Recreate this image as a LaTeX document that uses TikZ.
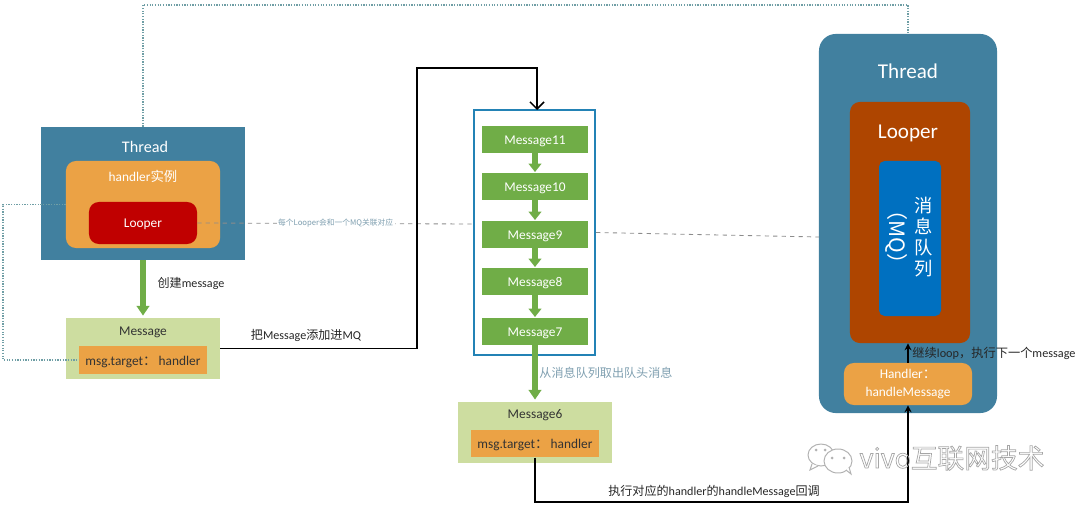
\documentclass[tikz,border=0pt]{standalone}
\usepackage{fontspec}
\setmainfont{Carlito}
\newfontfamily\cjk{Noto Sans CJK SC}
\usetikzlibrary{arrows.meta}

\definecolor{threadblue}{HTML}{41809F}
\definecolor{handlerorange}{HTML}{EBA245}
\definecolor{looperred}{HTML}{C00000}
\definecolor{looperbrown}{HTML}{AE4500}
\definecolor{mqblue}{HTML}{0070C0}
\definecolor{msggreen}{HTML}{70AD47}
\definecolor{msgpale}{HTML}{CDDDA0}
\definecolor{queueblue}{HTML}{2382B5}
\definecolor{linkgrey}{HTML}{6F9EA5}
\definecolor{notegrey}{HTML}{7F9FB0}

\begin{document}
\begin{tikzpicture}[x=0.025cm,y=-0.025cm,
        box/.style={inner sep=0pt,align=center,text=white},
        rbox/.style={box,rounded corners=7pt},
        msgitem/.style={box,fill=msggreen,minimum width=2.65cm,minimum height=0.675cm,text height=7pt,text depth=0pt,font=\fontsize{9.5}{11}\selectfont},
        msgcard/.style={box,fill=msgpale,minimum width=3.85cm,minimum height=1.525cm},
        target/.style={box,fill=handlerorange,minimum width=3.2cm,minimum height=0.69cm,text height=7.5pt,text depth=0pt,text=black!80,font=\fontsize{9.5}{11}\selectfont},
        bigarrow/.style={-{Triangle[width=9pt,length=7pt]},line width=3.6pt,msggreen,shorten >=1.5pt},
        smallarrow/.style={-{Triangle[width=9pt,length=6pt]},line width=3.8pt,msggreen,shorten >=0.5pt},
        flow/.style={line width=1.1pt,black},
        linkdot/.style={densely dotted,line width=0.9pt,linkgrey},
        linkdash/.style={dashed,line width=0.6pt,black!45},
        caption/.style={inner sep=0pt,font=\fontsize{8.6}{10}\selectfont,text=black!85},
        markline/.style={black!30,line width=0.7pt,fill=white}]

    \useasboundingbox (0,0) rectangle (1080,506);

    % Left thread
    \node[box,fill=threadblue,minimum width=5.1cm,minimum height=3.325cm] (lthread) at (143,193.5) {};
    \node[box,font=\fontsize{11.5}{14}\selectfont] (lthreadtxt) at (145,147) {Thread};
    \node[rbox,fill=handlerorange,minimum width=3.85cm,minimum height=2.175cm] (handler) at (143,204.5) {};
    \node[box,font=\fontsize{9.5}{11}\selectfont] (handlertxt) at (143,176) {handler{\cjk 实例}};
    \node[rbox,fill=looperred,minimum width=2.7cm,minimum height=1.05cm,text height=7pt,text depth=0pt,font=\fontsize{9.5}{11}\selectfont] (looper) at (143,223) {Looper};

    % Message created by the handler
    \node[msgcard] (msg) at (143,348.5) {};
    \node[box,text=black!80,font=\fontsize{9.5}{11}\selectfont] (msgtxt) at (143,332) {Message};
    \node[target] (msgtarget) at (143,360) {msg.target{\cjk ：}\,handler};

    % Message queue
    \node[draw=queueblue,line width=1.5pt,fill=white,minimum width=3.025cm,minimum height=6.125cm,inner sep=0pt] (queue) at (534.5,232.5) {};
    \node[msgitem] (m11) at (535,139.5) {Message11};
    \node[msgitem] (m10) at (535,186.5) {Message10};
    \node[msgitem] (m9) at (535,234.5) {Message9};
    \node[msgitem] (m8) at (535,281.5) {Message8};
    \node[msgitem] (m7) at (535,331.5) {Message7};

    % Message taken from the queue
    \node[msgcard] (msgsix) at (535,432.5) {};
    \node[box,text=black!80,font=\fontsize{9.5}{11}\selectfont] (msgsixtxt) at (535,415) {Message6};
    \node[target] (sixtarget) at (535,443.5) {msg.target{\cjk ：}\,handler};

    % Right thread
    \node[rbox,rounded corners=12pt,fill=threadblue,minimum width=4.45cm,minimum height=9.475cm] (rthread) at (908,223.5) {};
    \node[box,font=\fontsize{15}{17}\selectfont] (rthreadtxt) at (908,71) {Thread};
    \node[rbox,fill=looperbrown,minimum width=3cm,minimum height=6.025cm] (rlooper) at (910,222.5) {};
    \node[box,font=\fontsize{15}{17}\selectfont] (rloopertxt) at (908,133) {Looper};
    \node[rbox,rounded corners=4pt,fill=mqblue,minimum width=1.55cm,minimum height=3.875cm] (mq) at (910,238.5) {};
    \node[box,font=\cjk\fontsize{13}{15}\selectfont] (mqzh) at (924,237) {消\\息\\队\\列};
    \node[box,rotate=-90,font=\cjk\fontsize{15}{17}\selectfont] (mqen) at (897,237) {（MQ）};
    \node[rbox,fill=handlerorange,minimum width=3.2cm,minimum height=1.05cm,font=\fontsize{9.5}{12.2}\selectfont] (rhandler) at (908,384) {Handler{\cjk ：}\\handleMessage};

    % Helper points for the bends
    \coordinate (topbend) at (500,5);
    \coordinate (leftbend) at (3,280);
    \coordinate (upbend) at (417,68);
    \coordinate (qin) at (537,110);
    \coordinate (lowbend) at (700,502);
    \coordinate (qleft) at (474,224);
    \coordinate (rleft) at (819,237);

    % Dotted references
    \draw[linkdot] (lthread.north) |- (topbend) -| (rthread.north);
    \draw[linkdot] (handler.west) -| (leftbend) |- (msgtarget.west);

    % Dashed looper to queue
    \draw[linkdash] (looper.east) -- node[fill=white,inner sep=1pt,text=notegrey,font=\cjk\fontsize{5.5}{7}\selectfont] (note) {每个Looper会和一个MQ关联对应} (qleft);
    \draw[linkdash] (queue.east) -- (rleft);

    % Green arrows
    \draw[bigarrow] (lthread.south) -- (msg.north);
    \draw[smallarrow] (m11) -- (m10);
    \draw[smallarrow] (m10) -- (m9);
    \draw[smallarrow] (m9) -- (m8);
    \draw[smallarrow] (m8) -- (m7);
    \draw[bigarrow] (m7) -- (msgsix);

    % Black arrows
    \draw[flow,-{Straight Barb[length=5pt,width=10pt]}] (msg.east) -| (upbend) -| (qin);
    \draw[flow,-{Stealth[length=5pt,width=5pt]}] (sixtarget.south) |- (lowbend) -| (rhandler.south);
    \draw[flow,-{Stealth[length=5pt,width=5pt]}] (rhandler.north) -- (rlooper.south -| rhandler.north);

    % Labels
    \node[caption] (createtxt) at (191,283) {{\cjk 创建}message};
    \node[caption] (addtxt) at (306,335) {{\cjk 把}Message{\cjk 添加进}MQ};
    \node[caption,text=notegrey,font=\cjk\fontsize{8.6}{10}\selectfont] (taketxt) at (606,372.5) {从消息队列取出队头消息};
    \node[caption] (calltxt) at (714,491.5) {{\cjk 执行对应的}handler{\cjk 的}handleMessage{\cjk 回调}};
    \node[caption,font=\fontsize{8.7}{10}\selectfont] (looptxt) at (994,353.5) {{\cjk 继续}loop{\cjk ，执行下一个}message};

    % Watermark
    \draw[markline] (821,455) ellipse (13 and 11);
    \draw[markline] (812,464) -- (810,470) -- (818,466);
    \draw[markline] (838,461) ellipse (14 and 12);
    \draw[markline] (846,470) -- (851,474) -- (849,467);
    \fill[black!30] (816,450) circle (1.5);
    \fill[black!30] (825,450) circle (1.5);
    \fill[black!30] (832,458) circle (1.5);
    \fill[black!30] (844,458) circle (1.5);
    \node[inner sep=0pt,text=black!30,font=\cjk\fontsize{19}{22}\selectfont] (mark) at (952,458) {\special{pdf:code 1 Tr 0.5 w 0.65 G}vivo互联网技术\special{pdf:code 0 Tr 0 G}};

\end{tikzpicture}
\end{document}
